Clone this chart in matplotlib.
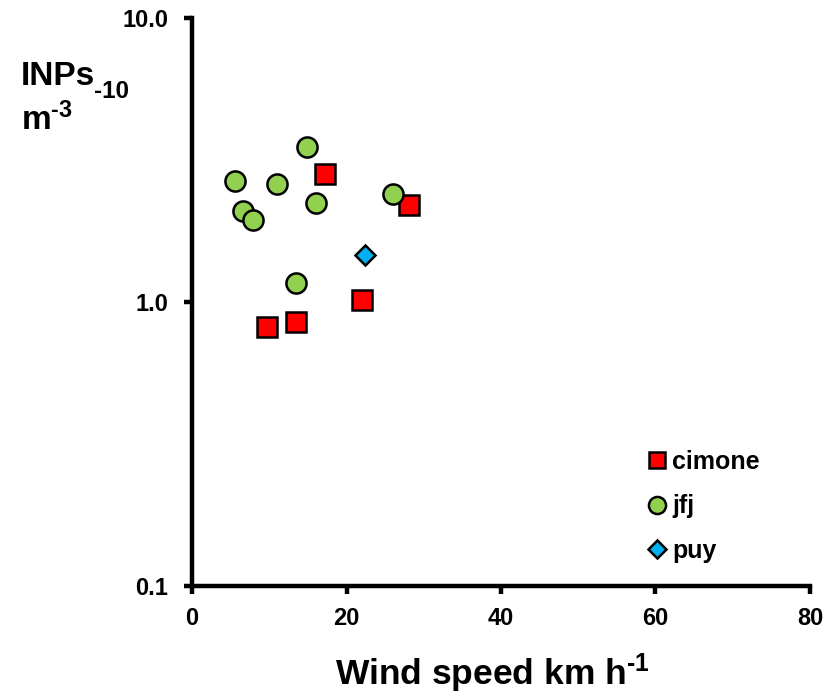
import numpy as np
import matplotlib
matplotlib.use("Agg")
import matplotlib.pyplot as plt
from matplotlib.ticker import FixedLocator, NullLocator

plt.rcParams['font.family'] = ['Liberation Sans', 'DejaVu Sans']
plt.rcParams['font.weight'] = 'bold'
plt.rcParams['mathtext.fontset'] = 'custom'
plt.rcParams['mathtext.rm'] = 'Liberation Sans:bold'
plt.rcParams['mathtext.bf'] = 'Liberation Sans:bold'
plt.rcParams['mathtext.default'] = 'bf'

# wind speed (km/h) and INPs at -10 C (m^-3) per site
cimone_wind = [9.7, 13.5, 22.0, 17.2, 28.1]
cimone_inp = [0.82, 0.85, 1.02, 2.82, 2.19]

jfj_wind = [5.6, 6.6, 7.9, 11.0, 14.9, 16.0, 13.5, 26.0]
jfj_inp = [2.67, 2.10, 1.94, 2.60, 3.51, 2.24, 1.17, 2.41]

puy_wind = [22.4]
puy_inp = [1.47]

W, H = 835, 696
fig = plt.figure(figsize=(W / 100, H / 100), dpi=100)
ax = fig.add_axes([0.23, 0.158, 0.74, 0.816])

ax.plot(cimone_wind, cimone_inp, 's', ms=14, mfc='#FF0000', mec='black', mew=1.8,
        label='cimone', linestyle='none')
ax.plot(jfj_wind, jfj_inp, 'o', ms=14.5, mfc='#92D050', mec='black', mew=1.8,
        label='jfj', linestyle='none')
ax.plot(puy_wind, puy_inp, 'D', ms=10.5, mfc='#00B0F0', mec='black', mew=1.8,
        label='puy', linestyle='none')

ax.set_yscale('log')
ax.set_xlim(0, 80)
ax.set_ylim(0.1, 10)
ax.xaxis.set_major_locator(FixedLocator([0, 20, 40, 60, 80]))
ax.yaxis.set_major_locator(FixedLocator([0.1, 1, 10]))
ax.yaxis.set_minor_locator(NullLocator())
ax.set_yticklabels(['0.1', '1.0', '10.0'])

for side in ['top', 'right']:
    ax.spines[side].set_visible(False)
for side in ['left', 'bottom']:
    ax.spines[side].set_linewidth(3.2)
ax.tick_params(axis='both', which='major', direction='out', length=6, width=3.2,
               labelsize=17)
ax.tick_params(axis='x', pad=9)
ax.tick_params(axis='y', pad=11)
for lab in ax.get_xticklabels() + ax.get_yticklabels():
    lab.set_fontweight('bold')

fig.text(0.59, 1 - 685 / H, r'Wind speed km h$^{\text{-1}}$', fontsize=25.5,
         fontweight='bold', ha='center', va='baseline')

# y label: INPs with a lowered subscript, then m^-3 on a second line
t1 = fig.text(0.025, 1 - 85 / H, 'INPs', fontsize=24, fontweight='bold',
              ha='left', va='baseline')
fig.text(0.025, 1 - 130 / H, r'm$^{\text{-3}}$', fontsize=24, fontweight='bold',
         ha='left', va='baseline')
fig.canvas.draw()
x_end = t1.get_window_extent().x1 / W
fig.text(x_end - 0.001, 1 - 98 / H, '-10', fontsize=17.5, fontweight='bold',
         ha='left', va='baseline')

leg = ax.legend(loc='upper left', bbox_to_anchor=(647 / W, 1 - 450 / H),
                bbox_transform=fig.transFigure, frameon=False, borderpad=0,
                borderaxespad=0, fontsize=18, handletextpad=0.2, labelspacing=0.82,
                markerscale=0.85, handlelength=0.8)
for t in leg.get_texts():
    t.set_fontweight('bold')

fig.savefig('out.png', dpi=100)
